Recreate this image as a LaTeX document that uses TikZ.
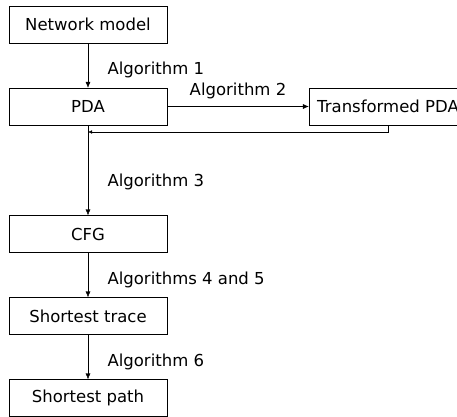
\documentclass[tikz,border=0pt]{standalone}
\usepackage{fontspec}
\setmainfont{DejaVu Sans}
\usetikzlibrary{arrows.meta,positioning,calc}
\tikzset{
block/.style = {draw, fill=white, rectangle, minimum height=37bp, minimum width=158bp},
tmp/.style  = {coordinate},
algo/.style = {anchor=west, xshift=16bp}
}

\begin{document}
\begin{tikzpicture}[auto, node distance=82bp,>={Latex[length=6bp,width=5bp]}, font=\fontsize{16.5bp}{20bp}\selectfont]
					\clip (-88bp,24.5bp) rectangle (369bp,-392.5bp);
					\node[block] (net) {Network model};
					\node[block, below of=net] (pda) {PDA};
					\node[block, right of=pda,node distance=300bp] (tpda) {Transformed PDA};
					\node[block, below of=pda,node distance=127.5bp] (cfg) {CFG};
					\node[block, below of=cfg] (trace) {Shortest trace};
					\node[block, below of=trace] (path) {Shortest path};
					\node[tmp, below of=pda,node distance=25.5bp] (back) {};
					\draw[->] (net) -- node[algo, pos=0.6] {Algorithm 1} (pda);
					\draw[->] (pda) -- node[anchor=south, yshift=4bp] {Algorithm 2} (tpda);
					\draw[-{Latex[length=4bp,width=3.5bp]}] (tpda.south) |- (back);
					\draw[->] (pda) -- node[algo, pos=0.63] {Algorithm 3} (cfg);
					\draw[->] (cfg) -- node[algo, pos=0.6] {Algorithms 4 and 5} (trace);
					\draw[->] (trace) -- node[algo, pos=0.6] {Algorithm 6} (path);
				\end{tikzpicture}
\end{document}
